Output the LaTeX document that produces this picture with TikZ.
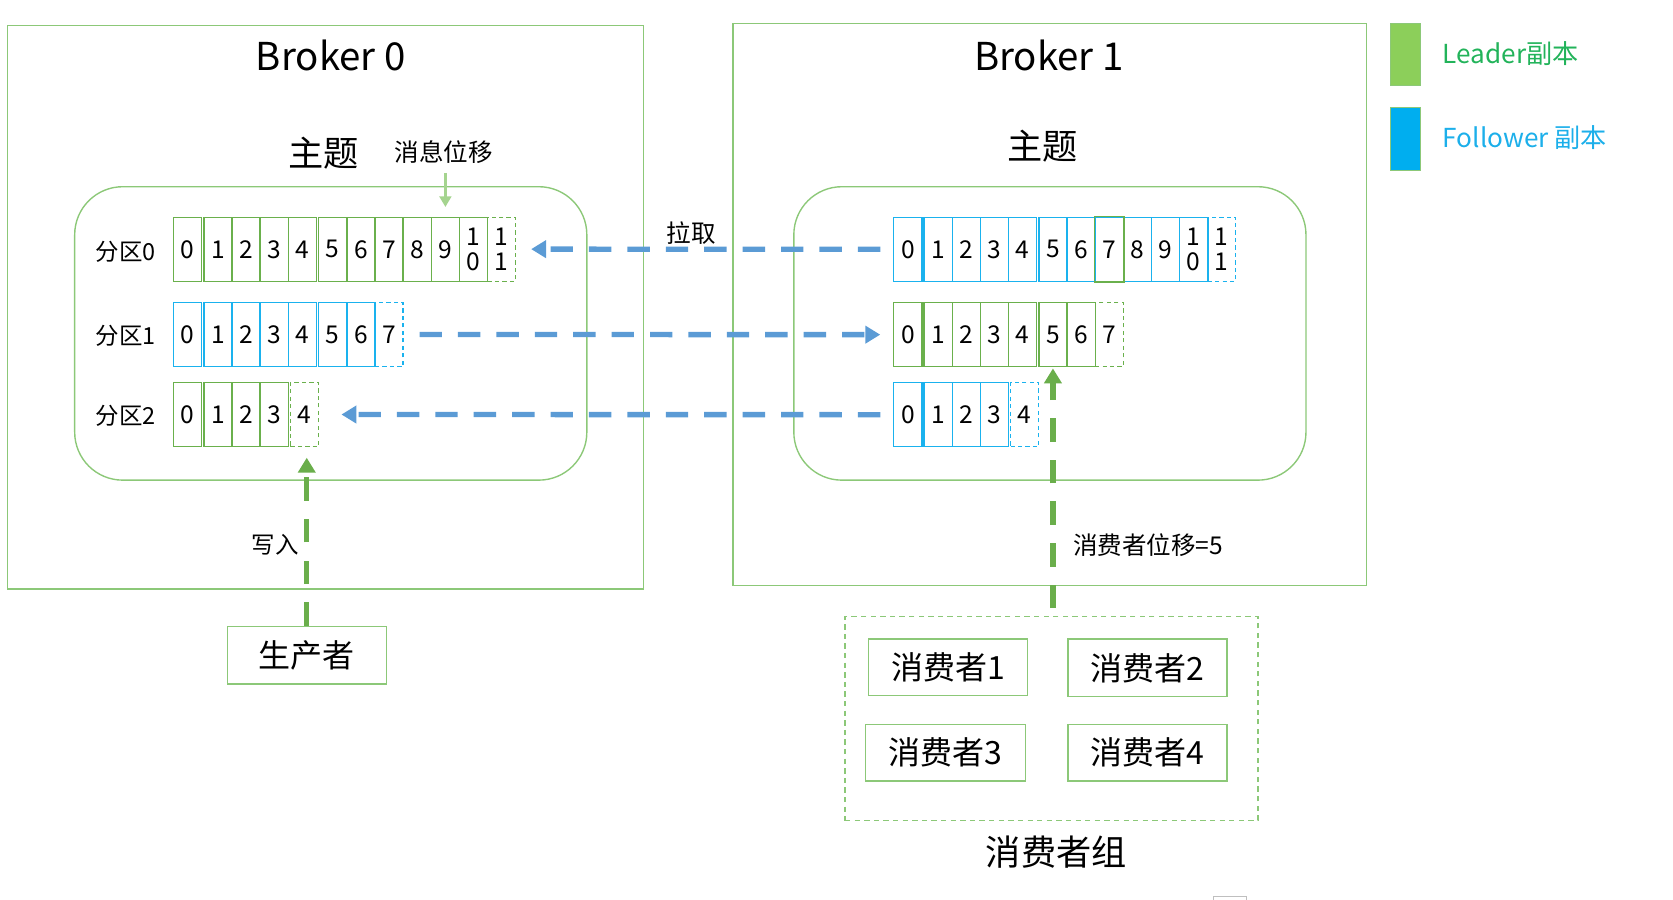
\documentclass[tikz,border=0pt]{standalone}
\usepackage{fontspec}
\setmainfont{Noto Sans CJK SC}
\usetikzlibrary{arrows.meta}
\newcommand\myfs[1]{\fontsize{#1}{#1}\selectfont}
\definecolor{boxgreen}{HTML}{8CC878}
\definecolor{cellgreen}{HTML}{6AB04C}
\definecolor{cellblue}{HTML}{1AB2EE}
\definecolor{arrowblue}{HTML}{5B9BD5}
\definecolor{arrowgreen}{HTML}{6AAE4B}
\definecolor{lightgreen}{HTML}{A5D48F}
\definecolor{legGreenFill}{HTML}{8CCF5A}
\definecolor{legBlueFill}{HTML}{00AEEF}
\definecolor{legGreenText}{HTML}{22B35A}
\definecolor{legBlueText}{HTML}{1CAFEA}
\tikzset{
  bigbox/.style={draw=boxgreen, line width=1.3pt, inner sep=0pt},
  topicbox/.style={draw=boxgreen, line width=1.3pt, rounded corners=45pt, inner sep=0pt},
  cellbase/.style={line width=1.3pt, minimum width=26.4pt, minimum height=60pt, inner sep=0pt,
     anchor=north west, align=center, font={\fontsize{23}{23}\selectfont}},
  cellG/.style={cellbase, draw=cellgreen},
  cellB/.style={cellbase, draw=cellblue},
  cellGd/.style={cellbase, draw=cellgreen, line width=1pt, dash pattern=on 4pt off 3pt},
  cellBd/.style={cellbase, draw=cellblue, line width=1pt, dash pattern=on 4pt off 3pt},
  bluearrow/.style={draw=arrowblue, line width=5pt, dash pattern=on 21pt off 15pt,
     -{Triangle[length=14pt,width=16pt]}},
  greenarrow/.style={draw=arrowgreen, line width=5pt, dash pattern=on 22pt off 17pt,
     -{Triangle[length=14pt,width=16pt]}},
  offsetarrow/.style={draw=lightgreen, line width=2.5pt, -{Triangle[length=10pt,width=11pt]}},
  personbox/.style={draw=boxgreen, line width=1.3pt, minimum width=149pt, minimum height=53pt,
     inner sep=0pt, font=\myfs{30}},
  lbl/.style={inner sep=0pt}
}
\begin{document}
\begin{tikzpicture}[x=1pt,y=-1pt]
\useasboundingbox (0,0) rectangle (1568,842.6);
% brokers
\node[bigbox, minimum width=596pt, minimum height=528pt] (broker0) at (305,288) {};
\node[bigbox, minimum width=594pt, minimum height=527pt] (broker1) at (984,285.5) {};
\node[lbl, font=\myfs{36}] (b0title) at (310,52) {Broker 0};
\node[lbl, font=\myfs{36}] (b1title) at (983,52) {Broker 1};
% legend
\node[draw=boxgreen, fill=legGreenFill, line width=1pt, minimum width=28pt, minimum height=58pt, inner sep=0pt] (legG) at (1317,51) {};
\node[draw=boxgreen, fill=legBlueFill, line width=1pt, minimum width=28pt, minimum height=59pt, inner sep=0pt] (legB) at (1317,130.5) {};
\node[lbl, anchor=west, text=legGreenText, font=\myfs{24.5}] (legGt) at (1352,50) {Leader副本};
\node[lbl, anchor=west, text=legBlueText, font=\myfs{24.5}] (legBt) at (1352,129) {Follower 副本};
% topics
\node[topicbox, minimum width=480pt, minimum height=275pt] (topic0) at (310,312.5) {};
\node[topicbox, minimum width=480pt, minimum height=275pt] (topic1) at (984,312.5) {};
\node[lbl, font=\myfs{33}] (t0) at (303,144) {主题};
\node[lbl, font=\myfs{33}] (t1) at (977,137) {主题};
\node[lbl, font=\myfs{23}] (msgoff) at (416,143) {消息位移};
% partition labels
\node[lbl, font=\myfs{22}] (p0) at (118,236) {分区0};
\node[lbl, font=\myfs{22}] (p1) at (118,315) {分区1};
\node[lbl, font=\myfs{22}] (p2) at (118,390) {分区2};
% left cells
\foreach \i/\t in {0/0,1/1,2/2,3/3,4/4,5/5,6/6,7/7,8/8,9/9,10/{1\\0}}
  \node[cellG] (L0-\i) at ({162+\i*26.4+(\i>0)*2+(\i>4)*2},203) {\t};
\node[cellGd] (L0-11) at ({162+11*26.4+4},203) {1\\1};
\foreach \i in {0,...,6}
  \node[cellB] (L1-\i) at ({162+\i*26.4+(\i>0)*2+(\i>4)*2},283) {\i};
\node[cellBd] (L1-7) at ({162+7*26.4+4},283) {7};
\foreach \i in {0,...,3}
  \node[cellG] (L2-\i) at ({162+\i*26.4+(\i>0)*2},358) {\i};
\node[cellGd] (L2-4) at ({162+4*26.4+4},358) {4};
% right cells
\foreach \i/\t in {0/0,1/1,2/2,3/3,4/4,5/5,6/6,7/7,8/8,9/9,10/{1\\0}}
  \node[cellB] (R0-\i) at ({837+\i*26.4+(\i>0)*2+(\i>4)*2},203) {\t};
\draw[cellgreen, line width=1.3pt] (R0-7.north west) rectangle (R0-7.south east);
\node[cellBd] (R0-11) at ({837+11*26.4+4},203) {1\\1};
\foreach \i in {0,...,6}
  \node[cellG] (R1-\i) at ({837+\i*26.4+(\i>0)*2+(\i>4)*2},283) {\i};
\node[cellGd] (R1-7) at ({837+7*26.4+4},283) {7};
\foreach \i in {0,...,3}
  \node[cellB] (R2-\i) at ({837+\i*26.4+(\i>0)*2},358) {\i};
\node[cellBd] (R2-4) at ({837+4*26.4+4},358) {4};
% arrows between brokers
\draw[bluearrow] ([xshift=-12pt]R0-0.west) -- ([xshift=14pt]L0-11.east);
\node[lbl, font=\myfs{23}] (pull) at (648,218) {拉取};
\draw[bluearrow] ([xshift=15pt]L1-7.east) -- ([xshift=-12pt]R1-0.west);
\draw[bluearrow] ([xshift=-12pt]R2-0.west) -- ([xshift=21pt]L2-4.east);
% message offset arrow
\draw[offsetarrow] ([yshift=-8pt]msgoff.south -| L0-9.north) -- ([yshift=9pt]L0-9.north);
% producer
\node[personbox, minimum height=54pt] (producer) at (287.5,614) {生产者};
\draw[greenarrow] (producer.north) -- ([yshift=-10pt]producer.north |- L2-4.south);
\node[lbl, font=\myfs{22}] (write) at (258,511) {写入};
% consumer group
\node[draw=boxgreen, line width=1.2pt, dash pattern=on 5pt off 4pt, minimum width=387pt, minimum height=191pt, inner sep=0pt] (group) at (985.5,673.5) {};
\node[personbox] (c1) at (888.5,625.5) {消费者1};
\node[personbox, minimum height=54pt] (c2) at (1075.5,626) {消费者2};
\node[personbox, minimum width=150pt] (c3) at (886,705.5) {消费者3};
\node[personbox] (c4) at (1075.5,705.5) {消费者4};
\node[lbl, font=\myfs{33}] (grouplbl) at (990,799) {消费者组};
\coordinate (cstart) at (R1-5.south |- 0,570);
\draw[greenarrow] (cstart) -- ([yshift=-1pt]R1-5.south);
\node[lbl, font=\myfs{23}] (coff) at (1076,511) {消费者位移=5};
% stray mark at bottom edge
\draw[gray!50, line width=1pt] (1137,846) -- (1137,840) -- (1168,840) -- (1168,846);
\end{tikzpicture}
\end{document}
